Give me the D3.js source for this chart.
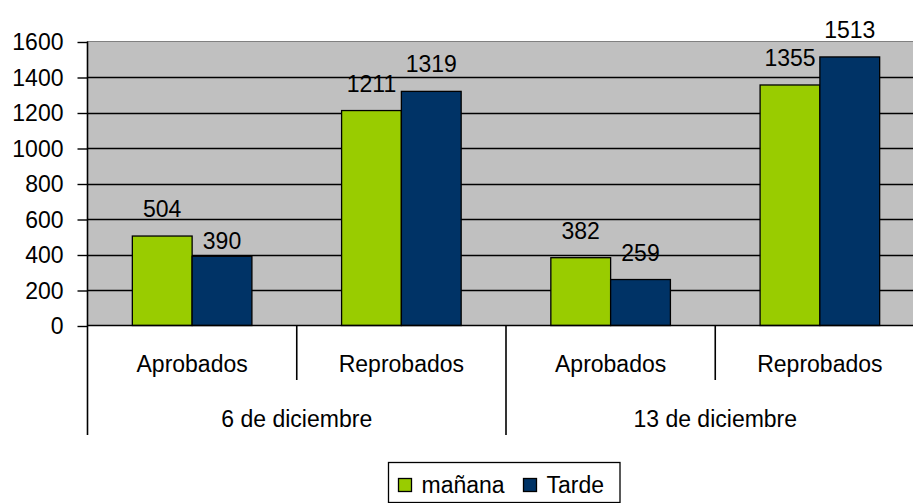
<!DOCTYPE html>
<html>
<head>
<meta charset="utf-8">
<script src="https://cdn.jsdelivr.net/npm/d3@7"></script>
<style>
  body { margin: 0; background: #fff; }
  svg text { font-family: "Liberation Sans", Arial, sans-serif; fill: #000; }
</style>
</head>
<body>
<div id="okvir"></div>
<script>
// podaci
const fechas = ["6 de diciembre", "13 de diciembre"]
const resultados = ["Aprobados", "Reprobados"]
const series = ["mañana", "Tarde"]
const manana = [504, 1211, 382, 1355]
const tarde = [390, 1319, 259, 1513]
const yTicks = [0, 200, 400, 600, 800, 1000, 1200, 1400, 1600]
const boje = ["#99cc00", "#003366"]

function crtaj() {
  const dim = {
    sirina: 913,
    visina: 503,
    lijevo: 87.5,
    desno: 924.5,   // plot ide malo preko ruba slike
    gore: 41.5,
    dolje: 325.5,
  }
  const fs = 23

  // kategorije (datum + rezultat)
  const kategorije = []
  fechas.forEach((f, i) => resultados.forEach((r, j) => kategorije.push({ fecha: f, res: r, idx: i * 2 + j })))

  const tablica = kategorije.map(k => ({ ...k, vrijednosti: [manana[k.idx], tarde[k.idx]] }))

  const okvir = d3.select("#okvir").append("svg")
    .attr("width", dim.sirina)
    .attr("height", dim.visina)

  const x0 = d3.scaleBand()
    .domain(kategorije.map(k => k.idx))
    .range([dim.lijevo, dim.desno])
    .padding(0)

  const x1 = d3.scaleBand()
    .domain(series.map((s, i) => i))
    .range([0, x0.bandwidth()])
    .paddingInner(0)
    .paddingOuter(0.75)

  const y = d3.scaleLinear()
    .domain([0, 1600])
    .range([dim.dolje, dim.gore])

  // pozadina
  okvir.append("rect")
    .attr("x", dim.lijevo)
    .attr("y", dim.gore)
    .attr("width", dim.desno - dim.lijevo)
    .attr("height", dim.dolje - dim.gore)
    .attr("fill", "#c0c0c0")
    .attr("stroke", "#808080")
    .attr("stroke-width", 1)

  // mreza
  okvir.append("g")
    .selectAll("line")
    .data(yTicks.filter(t => t > 0 && t < 1600))
    .join("line")
    .attr("x1", dim.lijevo)
    .attr("x2", dim.desno)
    .attr("y1", d => Math.round(y(d)) + 0.5)
    .attr("y2", d => Math.round(y(d)) + 0.5)
    .attr("stroke", "#000")
    .attr("stroke-width", 1.4)

  // y os
  const yOs = okvir.append("g")
    .attr("transform", `translate(${dim.lijevo},0)`)
    .call(d3.axisLeft(y).tickValues(yTicks).tickSize(10).tickPadding(14).tickFormat(d3.format("d")))
  yOs.select(".domain").remove()
  yOs.selectAll(".tick line").attr("stroke", "#000").attr("stroke-width", 1.4)
    .attr("transform", "translate(0,0.5)")
  yOs.selectAll(".tick text")
    .attr("font-size", fs)
    .attr("font-family", "Liberation Sans, Arial, sans-serif")
    .attr("dy", "0.36em")
  okvir.append("line")
    .attr("x1", dim.lijevo).attr("x2", dim.lijevo)
    .attr("y1", dim.gore).attr("y2", 435)
    .attr("stroke", "#000").attr("stroke-width", 1.6)

  // stupci
  const grupe = okvir.append("g")
    .selectAll("g")
    .data(tablica)
    .join("g")
    .attr("transform", d => `translate(${x0(d.idx)},0)`)

  grupe.selectAll("rect")
    .data(d => d.vrijednosti.map((v, i) => ({ v, i })))
    .join("rect")
    .attr("x", d => x1(d.i))
    .attr("y", d => y(d.v))
    .attr("width", x1.bandwidth())
    .attr("height", d => y(0) - y(d.v))
    .attr("fill", d => boje[d.i])
    .attr("stroke", "#000")
    .attr("stroke-width", 1.3)

  // oznake vrijednosti (390 je u originalu spustena blize stupcu)
  grupe.selectAll("text")
    .data(d => d.vrijednosti.map((v, i) => ({ v, i, k: d.idx })))
    .join("text")
    .attr("x", d => x1(d.i) + x1.bandwidth() / 2)
    .attr("y", d => y(d.v) - (d.k === 0 && d.i === 1 ? 7 : 19))
    .attr("text-anchor", "middle")
    .attr("font-size", fs)
    .text(d => d.v)

  // x os
  okvir.append("line")
    .attr("x1", dim.lijevo).attr("x2", dim.desno)
    .attr("y1", dim.dolje).attr("y2", dim.dolje)
    .attr("stroke", "#000").attr("stroke-width", 1.6)

  const donje = okvir.append("g")

  // razdjelnici rezultata
  kategorije.filter(k => k.idx % 2 === 1).forEach(k => {
    donje.append("line")
      .attr("x1", x0(k.idx)).attr("x2", x0(k.idx))
      .attr("y1", dim.dolje).attr("y2", 380)
      .attr("stroke", "#000").attr("stroke-width", 1.6)
  })
  // razdjelnici datuma
  fechas.forEach((f, i) => {
    const xd = x0(i * 2 + 2) ?? dim.desno
    donje.append("line")
      .attr("x1", xd).attr("x2", xd)
      .attr("y1", dim.dolje).attr("y2", 435)
      .attr("stroke", "#000").attr("stroke-width", 1.6)
  })

  donje.selectAll(".res")
    .data(kategorije)
    .join("text")
    .attr("class", "res")
    .attr("x", d => x0(d.idx) + x0.bandwidth() / 2)
    .attr("y", 371.5)
    .attr("text-anchor", "middle")
    .attr("font-size", fs)
    .text(d => d.res)

  donje.selectAll(".fecha")
    .data(fechas)
    .join("text")
    .attr("class", "fecha")
    .attr("x", (d, i) => x0(i * 2) + x0.bandwidth())
    .attr("y", 426.5)
    .attr("text-anchor", "middle")
    .attr("font-size", fs)
    .text(d => d)

  // legenda
  const legenda = okvir.append("g").attr("transform", "translate(388.5,462.5)")
  legenda.append("rect")
    .attr("width", 231.5)
    .attr("height", 40)
    .attr("fill", "#fff")
    .attr("stroke", "#000")
    .attr("stroke-width", 1.3)

  const pomaci = [10, 135]
  const stavke = legenda.selectAll(".stavka")
    .data(series)
    .join("g")
    .attr("class", "stavka")
    .attr("transform", (d, i) => `translate(${pomaci[i]},0)`)
  stavke.append("rect")
    .attr("x", 0).attr("y", 16)
    .attr("width", 13).attr("height", 13)
    .attr("fill", (d, i) => boje[i])
    .attr("stroke", "#000")
    .attr("stroke-width", 1.3)
  stavke.append("text")
    .attr("x", 23)
    .attr("y", 30.5)
    .attr("font-size", fs)
    .text(d => d)
}
crtaj()
</script>
</body>
</html>
